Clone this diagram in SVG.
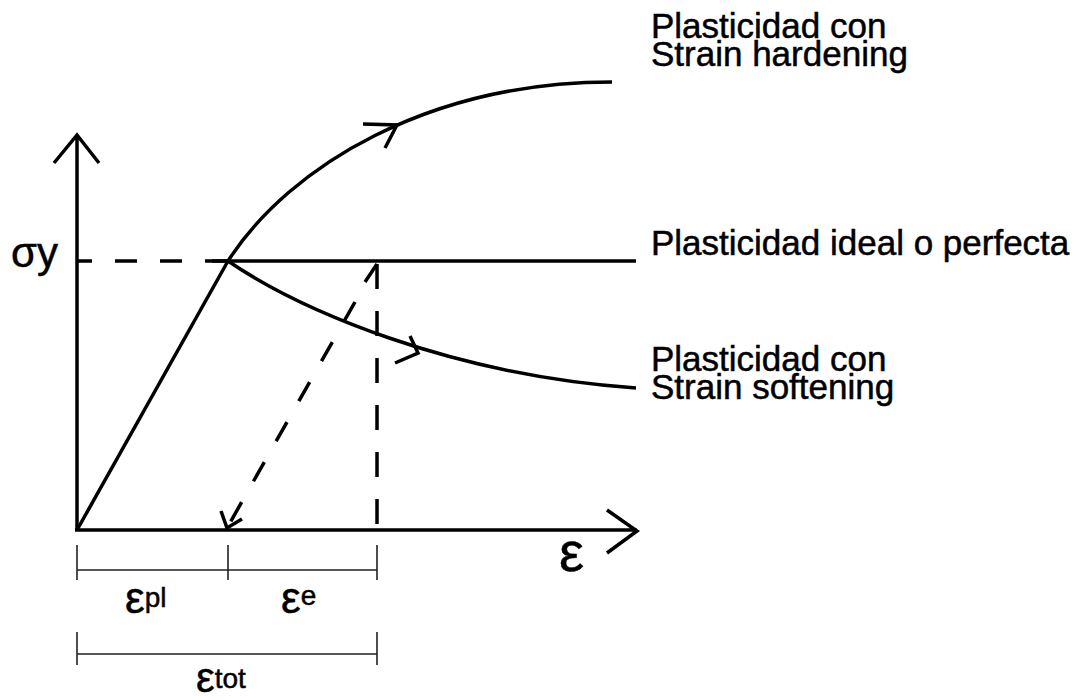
<svg xmlns="http://www.w3.org/2000/svg" width="1077" height="700" viewBox="0 0 1077 700">
<style>
.ln{fill:none;stroke:#000;stroke-width:3.5;stroke-linecap:butt;stroke-linejoin:miter}
.ds{fill:none;stroke:#000;stroke-width:3.5}
.dim{fill:none;stroke:#222;stroke-width:1.6}
.lbl{font-family:"Liberation Sans",Arial,sans-serif;fill:#000;stroke:#000;stroke-width:0.5}
</style>
<rect width="1077" height="700" fill="#fff"/>
<g id="connectors">
<!-- axes -->
<path class="ln" d="M77,530 V135 M54,163 L77,135 L99,163"/>
<path class="ln" d="M75,530 H637 M607,510 L637,531 L607,553"/>
<!-- elastic -->
<path class="ln" d="M77,530 L228,261"/>
<!-- yield dashed -->
<path class="ds" d="M77,261 H228" stroke-dasharray="22 23" stroke-dashoffset="7"/>
<!-- ideal plastic -->
<path class="ln" d="M212,261 H636"/>
<!-- hardening -->
<path class="ln" d="M228,261 C290,165 430,82 612,82"/>
<path class="ln" d="M363,124 L397,125 L385,148"/>
<!-- softening -->
<path class="ln" d="M228,261 C300,310 450,375 636,388"/>
<path class="ln" d="M410,336 L418,353 L395,363"/>
<!-- vertical dashed -->
<path class="ds" d="M377,264 V530" stroke-dasharray="25 22"/>
<path class="ln" d="M365,282 L377,264"/>
<!-- unloading dashed -->
<path class="ds" d="M355,302 L227,528" stroke-dasharray="22 24"/>
<path class="ln" d="M221,511 L227,528 L242,519"/>
<!-- dimension lines -->
<path class="dim" d="M77,570 H377 M77,545 V580 M228,545 V580 M377,545 V580"/>
<path class="dim" d="M77,654 H377 M77,632 V665 M377,632 V665"/>
</g>
<g id="labels">
<text class="lbl" x="11" y="267" font-size="42">σy</text>
<text class="lbl" x="559" y="571" font-size="56">ε</text>
<g id="eps-pl"><text class="lbl" x="125" y="613" font-size="44">ε<tspan font-size="28" dy="-6">pl</tspan></text></g>
<g id="eps-e"><text class="lbl" x="281" y="613" font-size="44">ε<tspan font-size="28" dy="-8">e</tspan></text></g>
<g id="eps-tot"><text class="lbl" x="196" y="692" font-size="42">ε<tspan font-size="28" dy="-4">tot</tspan></text></g>
</g>
<g id="hardening">
<text class="lbl" x="651" y="38" font-size="35">Plasticidad con</text>
<text class="lbl" x="651" y="66" font-size="35">Strain hardening</text>
</g>
<g id="ideal">
<text class="lbl" x="651" y="255" font-size="35">Plasticidad ideal o perfecta</text>
</g>
<g id="softening">
<text class="lbl" x="651" y="371" font-size="35">Plasticidad con</text>
<text class="lbl" x="651" y="399" font-size="35">Strain softening</text>
</g>
</svg>
